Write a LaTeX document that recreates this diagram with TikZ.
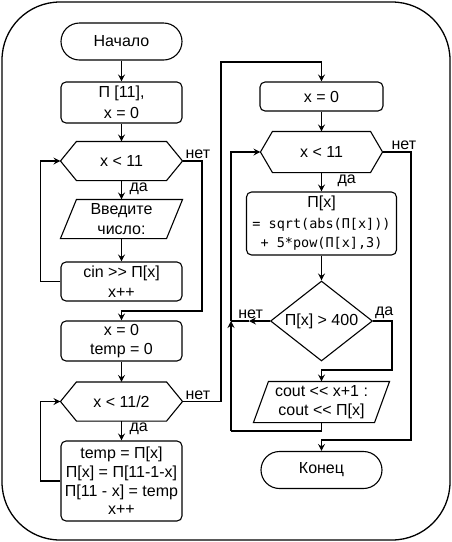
\documentclass[tikz,border=0pt]{standalone}
\usepackage{fontspec}
\setmainfont{Liberation Sans}[Ligatures=TeXOff]
\newfontfamily\codefont{DejaVu Sans Mono}
\usetikzlibrary{arrows.meta,shapes.geometric}

\tikzset{
  >={Stealth[length=7pt,width=7pt,inset=2.5pt]},
  every node/.style={font=\fontsize{16}{19.5}\selectfont},
  proc/.style={draw, rounded corners=5pt, minimum width=121pt, align=center, inner sep=1pt},
  term/.style={draw, rounded corners=18.5pt, minimum width=121pt, minimum height=37pt},
  hexa/.style={minimum width=121pt, minimum height=38pt, inner sep=0pt},
  para/.style={minimum width=121pt, minimum height=38pt, align=center, inner sep=0pt},
  decide/.style={draw, diamond, aspect=1.27, minimum width=102pt, minimum height=80pt, inner sep=0.5pt},
  lbl/.style={inner sep=1.5pt}
}

\begin{document}
\begin{tikzpicture}[x=1pt,y=-1pt,line width=1.1pt]

    \useasboundingbox (0,0) rectangle (452,542);

    % Outer frame
    \draw[line width=1.3pt, rounded corners=58pt] (2,2) rectangle (450,540);

    % Left column: input and reverse
    \node[term] (st) at (121.5,41.5) {Начало};
    \node[proc, minimum height=41pt] (b1) at (121.5,102.5) {П [11],\\[2pt] x = 0};
    \node[hexa] (c1) at (121.5,161) {x < 11};
    \node[para] (in1) at (121.5,219) {Введите\\число:};
    \node[proc, minimum height=39pt] (b2) at (121.5,281.5) {cin >> П[x]\\x++};
    \node[proc, minimum height=40pt] (b3) at (121.5,341) {x = 0\\temp = 0};
    \node[hexa] (c2) at (121.5,401.5) {x < 11/2};
    \node[proc, minimum height=80pt, font=\fontsize{16}{18.7}\selectfont] (b4) at (121.5,481)
        {temp = П[x]\\П[x] = П[11-1-x]\\П[11 - x] = temp\\x++};

    % Right column: compute and print
    \node[proc, minimum width=123pt, minimum height=29pt] (b5) at (321.5,96.5) {x = 0};
    \node[hexa, minimum height=40pt] (c3) at (321.5,152) {x < 11};
    \node[proc, minimum width=150pt, minimum height=63pt] (b6) at (321.5,223.5)
        {П[x]\\[1pt] {\codefont\fontsize{13.5}{20}\selectfont = sqrt(abs(П[x]))}\\
         {\codefont\fontsize{13.5}{20}\selectfont + 5*pow(П[x],3)}};
    \node[decide] (d1) at (321.5,321) {П[x] > 400};
    \node[para, minimum width=135pt, minimum height=40pt] (out1) at (321.5,402) {cout << x+1 :\\cout << П[x]};
    \node[term] (en) at (321.5,470) {Конец};

    % Outlines of hexagons and parallelograms
    \foreach \n/\d in {c1/16,c2/16,c3/12} {
        \draw ([xshift=\d]\n.north west) -- ([xshift=-\d]\n.north east) -- (\n.east)
            -- ([xshift=-\d]\n.south east) -- ([xshift=\d]\n.south west) -- (\n.west) -- cycle;
    }
    \foreach \n/\d in {in1/16,out1/15} {
        \draw ([xshift=\d]\n.north west) -- (\n.north east)
            -- ([xshift=-\d]\n.south east) -- (\n.south west) -- cycle;
    }

    % Bends
    \coordinate (j1) at (202,311);
    \coordinate (j2) at (221,62);
    \coordinate (j3) at (392,370);
    \coordinate (nj) at (249,321);
    \coordinate (jn) at (231,321);
    \coordinate (j4) at (231,431);
    \coordinate (j5) at (411,440);

    % First loop
    \draw[->] (st.south) -- (b1.north);
    \draw[->] (b1.south) -- (c1.north);
    \draw[->] (c1.south) -- (in1.north);
    \draw[->] (in1.south) -- (b2.north);
    \draw[->] (b2.west) -- ++(-20,0) |- (c1.west);
    \draw[->] (c1.east) -| (j1) -| (b3.north);
    \node[lbl, anchor=south west] (n1) at ([xshift=1]c1.east) {нет};
    \node[lbl, anchor=north west] (y1) at ([xshift=6]c1.south) {да};

    % Second loop
    \draw[->] (b3.south) -- (c2.north);
    \draw[->] (c2.south) -- (b4.north);
    \draw[->] (b4.west) -- ++(-20,0) |- (c2.west);
    \draw[->] (c2.east) -| (j2) -| (b5.north);
    \node[lbl, anchor=south west] (n2) at ([xshift=1]c2.east) {нет};
    \node[lbl, anchor=north west] (y2) at ([xshift=6]c2.south) {да};

    % Third loop
    \draw[->] (b5.south) -- (c3.north);
    \draw[->] (c3.south) -- (b6.north);
    \draw[->] (b6.south) -- (d1.north);
    \draw[->] (d1.east) -| (j3) -| (out1.north);
    \draw[->] (d1.west) -- (nj);
    \draw (nj) -- (jn);
    \draw (out1.south) |- (j4);
    \draw[->] (j4) -- (jn);
    \draw[->] (jn) |- (c3.west);
    \draw[->] (c3.east) -| (j5) -| (en.north);
    \node[lbl, anchor=south west] (n3) at ([xshift=7]c3.east) {нет};
    \node[lbl, anchor=north west] (y3) at ([xshift=14]c3.south) {да};
    \node[lbl, anchor=south west] (y4) at (d1.east) {да};
    \node[lbl, anchor=south east] (n4) at ([xshift=-5]d1.west) {нет};

\end{tikzpicture}
\end{document}
